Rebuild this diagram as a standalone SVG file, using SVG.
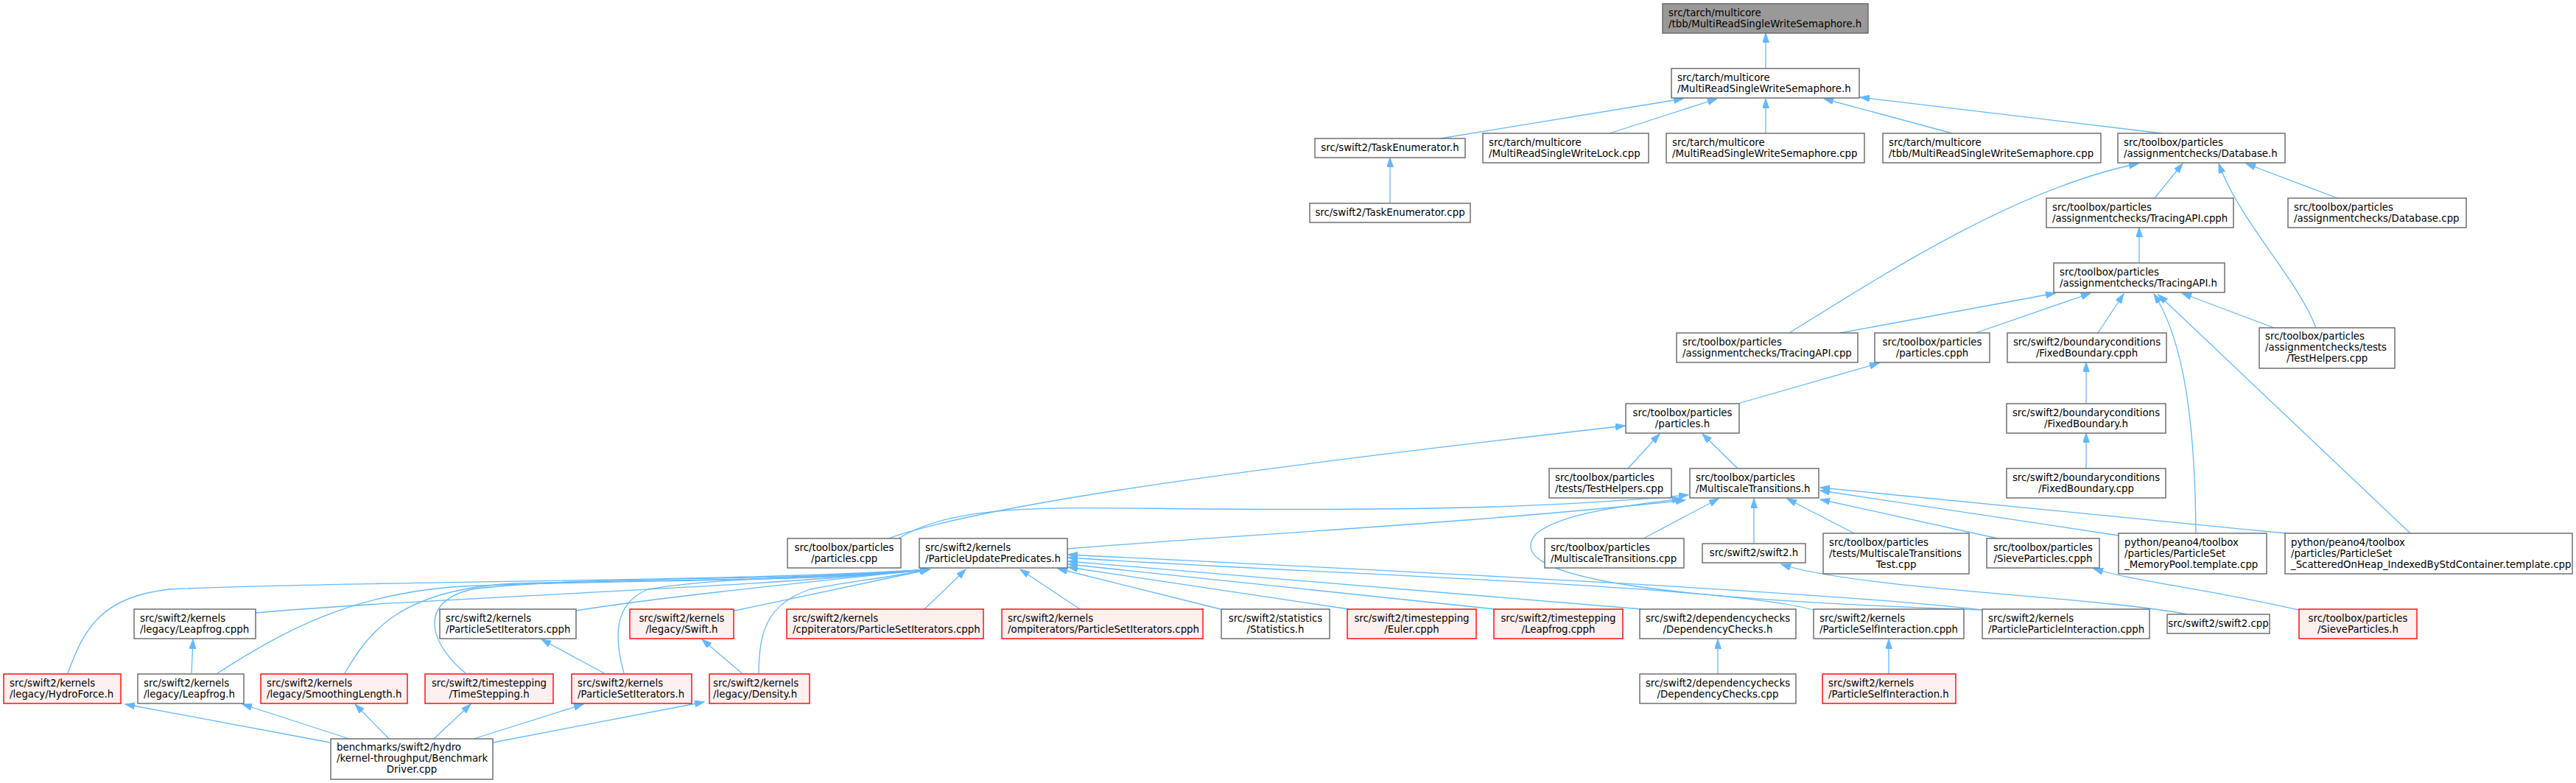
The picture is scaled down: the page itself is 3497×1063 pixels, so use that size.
<svg xmlns="http://www.w3.org/2000/svg" width="3497" height="1063" viewBox="0 0 3497 1063">
<style>
rect{fill:#fff;stroke:#666;stroke-width:1.4}
.r rect{fill:#fff0f0;stroke:#f00}
.g rect{fill:#999}
text{font-family:"DejaVu Sans",sans-serif;font-size:13.33px;fill:#000}
.c{text-anchor:middle}
#edges path{fill:none;stroke:#63b8ff;stroke-width:1.3;marker-end:url(#ah)}
</style>
<defs>
<marker id="ah" markerUnits="userSpaceOnUse" markerWidth="14" markerHeight="10" refX="13" refY="4.5" orient="auto">
<path d="M0,0 L13,4.5 L0,9 z" fill="#63b8ff" stroke="#63b8ff" stroke-width="1"/>
</marker>
</defs>
<rect width="3497" height="1063" style="fill:#fff;stroke:none"/>
<g id="edges">
<path d="M2397,93 L2397,45"/>
<path d="M1955,188 L2285,134"/>
<path d="M2185,181 L2331,134"/>
<path d="M2397,181 L2397,134"/>
<path d="M2650,181 L2476,134"/>
<path d="M2935,181 L2525,132"/>
<path d="M1887,276 L1887,214"/>
<path d="M2925,269 L2963,222"/>
<path d="M3173,269 L3049,222"/>
<path d="M2429,452 C2560,370 2740,255 2903,222"/>
<path d="M3144,445 C3120,380 3040,300 3012,222"/>
<path d="M2904,357 L2904,309"/>
<path d="M2498,452 L2790,398"/>
<path d="M2682,452 L2838,398"/>
<path d="M2848,452 L2883,399"/>
<path d="M3087,445 L2962,398"/>
<path d="M2981,724 C2980,600 2970,470 2924,399"/>
<path d="M3272,724 L2930,400"/>
<path d="M2359,548 L2551,493"/>
<path d="M2832,548 L2832,492"/>
<path d="M2832,636 L2832,588"/>
<path d="M2210,636 L2253,589"/>
<path d="M2359,636 L2311,589"/>
<path d="M1206,731 C1350,680 1750,630 2206,578"/>
<path d="M1220,731 C1300,680 1450,690 1650,691 C1900,693 2100,690 2292,672"/>
<path d="M1449,745 C1700,725 2000,710 2288,679"/>
<path d="M2231,731 L2333,677"/>
<path d="M2381,738 L2381,677"/>
<path d="M2517,724 L2426,677"/>
<path d="M2712,731 L2471,678"/>
<path d="M2876,727 L2471,666"/>
<path d="M3103,724 L2471,662"/>
<path d="M2691,828 C2300,815 2030,790 2085,725 C2120,695 2220,685 2283,677"/>
<path d="M2969,834 C2850,810 2520,800 2418,766"/>
<path d="M3125,829 C3000,800 2900,790 2842,772"/>
<path d="M347,832 C600,810 1000,800 1262,773"/>
<path d="M92,914 C115,850 140,810 230,800 C500,788 1000,790 1262,773"/>
<path d="M295,914 C380,860 480,800 650,795 C900,786 1100,790 1262,773"/>
<path d="M468,914 C500,860 540,800 700,792 C950,785 1100,790 1262,773"/>
<path d="M632,914 C590,880 560,820 640,800 C800,780 1100,790 1262,773"/>
<path d="M782,829 C900,810 1100,790 1262,773"/>
<path d="M847,914 C835,870 830,820 880,800 C960,785 1100,785 1262,773"/>
<path d="M993,830 L1262,773"/>
<path d="M1030,914 C1030,860 1040,820 1100,800 C1150,790 1200,785 1262,773"/>
<path d="M1255,827 L1311,773"/>
<path d="M1466,827 L1385,773"/>
<path d="M1657,827 L1436,772"/>
<path d="M1831,827 L1450,770"/>
<path d="M2030,827 L1450,766"/>
<path d="M2229,827 L1450,762"/>
<path d="M2461,828 C2350,795 1800,780 1450,757"/>
<path d="M2691,828 C2500,805 1900,775 1450,753"/>
<path d="M820,914 L735,868"/>
<path d="M1007,914 L953,868"/>
<path d="M260,914 L262,868"/>
<path d="M2332,915 L2332,868"/>
<path d="M2564,915 L2564,868"/>
<path d="M448,1008 L170,956"/>
<path d="M474,1003 L329,956"/>
<path d="M528,1003 L482,956"/>
<path d="M589,1003 L639,956"/>
<path d="M643,1003 L792,956"/>
<path d="M669,1008 L956,953"/>
</g>
<g id="n0" class="g"><rect x="2257" y="5" width="279" height="40"/><text x="2265" y="21.5">src/tarch/multicore</text><text x="2265" y="36.5">/tbb/MultiReadSingleWriteSemaphore.h</text></g>
<g id="n1"><rect x="2269" y="93" width="255" height="40"/><text x="2277" y="109.5">src/tarch/multicore</text><text x="2277" y="124.5">/MultiReadSingleWriteSemaphore.h</text></g>
<g id="n2"><rect x="1785" y="188" width="204" height="26"/><text class="c" x="1887" y="205">src/swift2/TaskEnumerator.h</text></g>
<g id="n3"><rect x="2013" y="181" width="225" height="40"/><text x="2021" y="197.5">src/tarch/multicore</text><text x="2021" y="212.5">/MultiReadSingleWriteLock.cpp</text></g>
<g id="n4"><rect x="2262" y="181" width="269" height="40"/><text x="2270" y="197.5">src/tarch/multicore</text><text x="2270" y="212.5">/MultiReadSingleWriteSemaphore.cpp</text></g>
<g id="n5"><rect x="2556" y="181" width="296" height="40"/><text x="2564" y="197.5">src/tarch/multicore</text><text x="2564" y="212.5">/tbb/MultiReadSingleWriteSemaphore.cpp</text></g>
<g id="n6"><rect x="2875" y="181" width="227" height="40"/><text x="2883" y="197.5">src/toolbox/particles</text><text x="2883" y="212.5">/assignmentchecks/Database.h</text></g>
<g id="n7"><rect x="1778" y="276" width="218" height="26"/><text class="c" x="1887" y="293">src/swift2/TaskEnumerator.cpp</text></g>
<g id="n8"><rect x="2778" y="269" width="254" height="40"/><text x="2786" y="285.5">src/toolbox/particles</text><text x="2786" y="300.5">/assignmentchecks/TracingAPI.cpph</text></g>
<g id="n9"><rect x="3106" y="269" width="242" height="40"/><text x="3114" y="285.5">src/toolbox/particles</text><text x="3114" y="300.5">/assignmentchecks/Database.cpp</text></g>
<g id="n10"><rect x="2788" y="357" width="232" height="40"/><text x="2796" y="373.5">src/toolbox/particles</text><text x="2796" y="388.5">/assignmentchecks/TracingAPI.h</text></g>
<g id="n11"><rect x="2276" y="452" width="246" height="40"/><text x="2284" y="468.5">src/toolbox/particles</text><text x="2284" y="483.5">/assignmentchecks/TracingAPI.cpp</text></g>
<g id="n12"><rect x="2545" y="452" width="156" height="40"/><text class="c" x="2623" y="468.5">src/toolbox/particles</text><text class="c" x="2623" y="483.5">/particles.cpph</text></g>
<g id="n13"><rect x="2725" y="452" width="216" height="40"/><text class="c" x="2833" y="468.5">src/swift2/boundaryconditions</text><text class="c" x="2833" y="483.5">/FixedBoundary.cpph</text></g>
<g id="n14"><rect x="3067" y="445" width="184" height="55"/><text x="3075" y="461">src/toolbox/particles</text><text x="3075" y="476">/assignmentchecks/tests</text><text class="c" x="3159" y="491">/TestHelpers.cpp</text></g>
<g id="n15"><rect x="2207" y="548" width="154" height="40"/><text class="c" x="2284" y="564.5">src/toolbox/particles</text><text class="c" x="2284" y="579.5">/particles.h</text></g>
<g id="n16"><rect x="2724" y="548" width="216" height="40"/><text class="c" x="2832" y="564.5">src/swift2/boundaryconditions</text><text class="c" x="2832" y="579.5">/FixedBoundary.h</text></g>
<g id="n17"><rect x="2103" y="636" width="166" height="40"/><text x="2111" y="652.5">src/toolbox/particles</text><text x="2111" y="667.5">/tests/TestHelpers.cpp</text></g>
<g id="n18"><rect x="2294" y="636" width="175" height="40"/><text x="2302" y="652.5">src/toolbox/particles</text><text x="2302" y="667.5">/MultiscaleTransitions.h</text></g>
<g id="n19"><rect x="2724" y="636" width="216" height="40"/><text class="c" x="2832" y="652.5">src/swift2/boundaryconditions</text><text class="c" x="2832" y="667.5">/FixedBoundary.cpp</text></g>
<g id="n20"><rect x="1069" y="731" width="154" height="40"/><text class="c" x="1146" y="747.5">src/toolbox/particles</text><text class="c" x="1146" y="762.5">/particles.cpp</text></g>
<g id="n21"><rect x="1248" y="731" width="201" height="40"/><text x="1256" y="747.5">src/swift2/kernels</text><text x="1256" y="762.5">/ParticleUpdatePredicates.h</text></g>
<g id="n22"><rect x="2097" y="731" width="189" height="40"/><text x="2105" y="747.5">src/toolbox/particles</text><text x="2105" y="762.5">/MultiscaleTransitions.cpp</text></g>
<g id="n23"><rect x="2311" y="738" width="140" height="26"/><text class="c" x="2381" y="755">src/swift2/swift2.h</text></g>
<g id="n24"><rect x="2475" y="724" width="198" height="55"/><text x="2483" y="740.5">src/toolbox/particles</text><text x="2483" y="755.5">/tests/MultiscaleTransitions</text><text class="c" x="2574" y="770.5">Test.cpp</text></g>
<g id="n25"><rect x="2697" y="731" width="153" height="40"/><text class="c" x="2773.5" y="747.5">src/toolbox/particles</text><text class="c" x="2773.5" y="762.5">/SieveParticles.cpph</text></g>
<g id="n26"><rect x="2876" y="724" width="201" height="55"/><text x="2884" y="740.5">python/peano4/toolbox</text><text x="2884" y="755.5">/particles/ParticleSet</text><text x="2884" y="770.5">_MemoryPool.template.cpp</text></g>
<g id="n27"><rect x="3102" y="724" width="390" height="55"/><text x="3110" y="740.5">python/peano4/toolbox</text><text x="3110" y="755.5">/particles/ParticleSet</text><text x="3110" y="770.5">_ScatteredOnHeap_IndexedByStdContainer.template.cpp</text></g>
<g id="n28"><rect x="182" y="827" width="165" height="40"/><text x="190" y="843.5">src/swift2/kernels</text><text x="190" y="858.5">/legacy/Leapfrog.cpph</text></g>
<g id="n29"><rect x="597" y="827" width="185" height="40"/><text x="605" y="843.5">src/swift2/kernels</text><text x="605" y="858.5">/ParticleSetIterators.cpph</text></g>
<g id="n30" class="r"><rect x="855" y="827" width="141" height="40"/><text class="c" x="925.5" y="843.5">src/swift2/kernels</text><text class="c" x="925.5" y="858.5">/legacy/Swift.h</text></g>
<g id="n31" class="r"><rect x="1068" y="827" width="267" height="40"/><text x="1076" y="843.5">src/swift2/kernels</text><text x="1076" y="858.5">/cppiterators/ParticleSetIterators.cpph</text></g>
<g id="n32" class="r"><rect x="1360" y="827" width="273" height="40"/><text x="1368" y="843.5">src/swift2/kernels</text><text x="1368" y="858.5">/ompiterators/ParticleSetIterators.cpph</text></g>
<g id="n33"><rect x="1658" y="827" width="147" height="40"/><text class="c" x="1731.5" y="843.5">src/swift2/statistics</text><text class="c" x="1731.5" y="858.5">/Statistics.h</text></g>
<g id="n34" class="r"><rect x="1829" y="827" width="175" height="40"/><text class="c" x="1916.5" y="843.5">src/swift2/timestepping</text><text class="c" x="1916.5" y="858.5">/Euler.cpph</text></g>
<g id="n35" class="r"><rect x="2028" y="827" width="175" height="40"/><text class="c" x="2115.5" y="843.5">src/swift2/timestepping</text><text class="c" x="2115.5" y="858.5">/Leapfrog.cpph</text></g>
<g id="n36"><rect x="2226" y="827" width="212" height="40"/><text class="c" x="2332" y="843.5">src/swift2/dependencychecks</text><text class="c" x="2332" y="858.5">/DependencyChecks.h</text></g>
<g id="n37"><rect x="2462" y="827" width="204" height="40"/><text x="2470" y="843.5">src/swift2/kernels</text><text x="2470" y="858.5">/ParticleSelfInteraction.cpph</text></g>
<g id="n38"><rect x="2691" y="827" width="227" height="40"/><text x="2699" y="843.5">src/swift2/kernels</text><text x="2699" y="858.5">/ParticleParticleInteraction.cpph</text></g>
<g id="n39"><rect x="2942" y="834" width="139" height="26"/><text class="c" x="3011.5" y="851">src/swift2/swift2.cpp</text></g>
<g id="n40" class="r"><rect x="3121" y="827" width="160" height="40"/><text class="c" x="3201" y="843.5">src/toolbox/particles</text><text class="c" x="3201" y="858.5">/SieveParticles.h</text></g>
<g id="n41" class="r"><rect x="5" y="915" width="159" height="40"/><text x="13" y="931.5">src/swift2/kernels</text><text x="13" y="946.5">/legacy/HydroForce.h</text></g>
<g id="n42"><rect x="187" y="915" width="144" height="40"/><text x="195" y="931.5">src/swift2/kernels</text><text x="195" y="946.5">/legacy/Leapfrog.h</text></g>
<g id="n43" class="r"><rect x="354" y="915" width="199" height="40"/><text x="362" y="931.5">src/swift2/kernels</text><text x="362" y="946.5">/legacy/SmoothingLength.h</text></g>
<g id="n44" class="r"><rect x="577" y="915" width="174" height="40"/><text class="c" x="664" y="931.5">src/swift2/timestepping</text><text class="c" x="664" y="946.5">/TimeStepping.h</text></g>
<g id="n45" class="r"><rect x="776" y="915" width="163" height="40"/><text x="784" y="931.5">src/swift2/kernels</text><text x="784" y="946.5">/ParticleSetIterators.h</text></g>
<g id="n46" class="r"><rect x="963" y="915" width="136" height="40"/><text x="968" y="931.5">src/swift2/kernels</text><text x="968" y="946.5">/legacy/Density.h</text></g>
<g id="n47"><rect x="2226" y="915" width="212" height="40"/><text class="c" x="2332" y="931.5">src/swift2/dependencychecks</text><text class="c" x="2332" y="946.5">/DependencyChecks.cpp</text></g>
<g id="n48" class="r"><rect x="2474" y="915" width="181" height="40"/><text x="2482" y="931.5">src/swift2/kernels</text><text x="2482" y="946.5">/ParticleSelfInteraction.h</text></g>
<g id="n49"><rect x="449" y="1003" width="220" height="55"/><text x="457" y="1019">benchmarks/swift2/hydro</text><text x="457" y="1034">/kernel-throughput/Benchmark</text><text class="c" x="559" y="1049">Driver.cpp</text></g>
</svg>
